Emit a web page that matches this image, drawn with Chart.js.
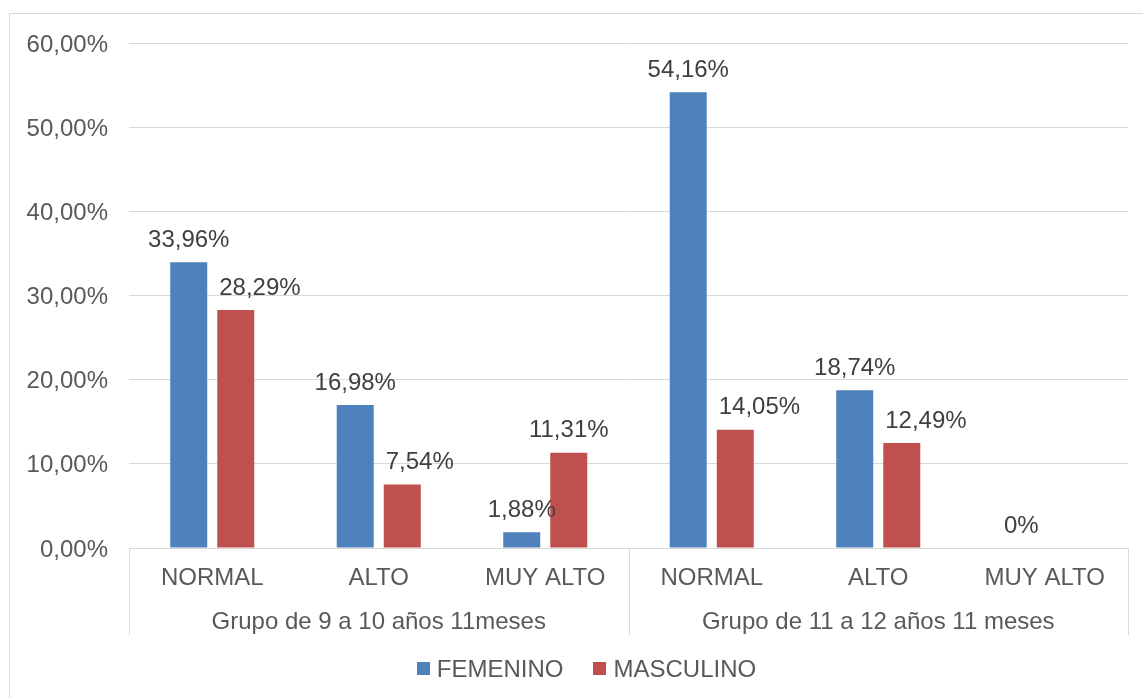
<!DOCTYPE html>
<html>
<head>
<meta charset="utf-8">
<script src="https://cdn.jsdelivr.net/npm/chart.js@4.4.1/dist/chart.umd.min.js"></script>
<style>
  html, body { margin: 0; padding: 0; background: #ffffff; }
  #wrap { position: relative; width: 1143px; height: 698px; }
</style>
</head>
<body>
<div id="wrap"><canvas id="c" width="1143" height="698"></canvas></div>
<script>
// ---- Data ----
const categories = ["NORMAL", "ALTO", "MUY ALTO", "NORMAL", "ALTO", "MUY ALTO"];
const groups = ["Grupo de 9 a 10 años 11meses", "Grupo de 11 a 12 años 11 meses"];
const groupSizes = [3, 3];
const seriesNames = ["FEMENINO", "MASCULINO"];
const femenino = [33.96, 16.98, 1.88, 54.16, 18.74, 0];
const masculino = [28.29, 7.54, 11.31, 14.05, 12.49, 0];
const femeninoLabels = ["33,96%", "16,98%", "1,88%", "54,16%", "18,74%", "0%"];
const masculinoLabels = ["28,29%", "7,54%", "11,31%", "14,05%", "12,49%", ""];
const yTicks = [0, 10, 20, 30, 40, 50, 60];

// ---- Styles ----
const BLUE = "#4F81BD";
const RED = "#C0504D";
const GRID = "#d9d9d9";
const TEXT = "#595959";
const LABEL_TEXT = "#404040";
const FONT = "'Liberation Sans', Arial, sans-serif";
const FS = 24;
// label alignment per bar (style, not data)
const labelAlign = [
  ["center", "center", "center", "center", "center", "center"],
  ["left", "left", "center", "left", "left", "center"]
];

const extras = {
  id: "extras",
  beforeDraw(chart) {
    const ctx = chart.ctx;
    ctx.save();
    ctx.strokeStyle = GRID;
    ctx.lineWidth = 1;
    ctx.strokeRect(9.5, 13.5, 1200, 800);
    ctx.restore();
  },
  afterDraw(chart) {
    const ctx = chart.ctx;
    const x = chart.scales.x;
    const area = chart.chartArea;
    ctx.save();
    // separators
    ctx.strokeStyle = GRID;
    ctx.lineWidth = 1;
    const seps = [area.left];
    let acc = 0;
    groupSizes.forEach(n => {
      acc += n;
      seps.push(acc === categories.length ? area.right : x.getPixelForValue(acc - 0.5));
    });
    seps.forEach(px => {
      const sx = Math.round(px) + 0.5;
      ctx.beginPath();
      ctx.moveTo(sx, area.bottom);
      ctx.lineTo(sx, area.bottom + 87);
      ctx.stroke();
    });
    // group labels
    ctx.fillStyle = TEXT;
    ctx.font = FS + "px " + FONT;
    ctx.textAlign = "center";
    ctx.textBaseline = "middle";
    for (let g = 0; g < groups.length; g++) {
      const cx = (seps[g] + seps[g + 1]) / 2;
      ctx.fillText(groups[g], cx, area.bottom + 74);
    }
    // data labels
    const labelSets = [femeninoLabels, masculinoLabels];
    ctx.fillStyle = LABEL_TEXT;
    chart.data.datasets.forEach((ds, di) => {
      const meta = chart.getDatasetMeta(di);
      meta.data.forEach((bar, i) => {
        const txt = labelSets[di][i];
        if (!txt) return;
        const al = labelAlign[di][i];
        ctx.textAlign = al;
        const lx = al === "left" ? bar.x - bar.width / 2 + 2 : bar.x;
        ctx.fillText(txt, lx, bar.y - 22);
      });
    });
    // legend
    ctx.font = FS + "px " + FONT;
    ctx.textAlign = "left";
    const box = 13, gapT = 7, gapI = 30;
    const colors = [BLUE, RED];
    const widths = seriesNames.map(s => ctx.measureText(s).width);
    const total = widths.reduce((a, w) => a + box + gapT + w, 0) + gapI * (seriesNames.length - 1);
    let lx = 586.5 - total / 2;
    const ly = 669;
    seriesNames.forEach((s, i) => {
      ctx.fillStyle = colors[i];
      ctx.fillRect(Math.round(lx), ly - 7, box, box);
      ctx.fillStyle = TEXT;
      ctx.fillText(s, lx + box + gapT, ly + 1);
      lx += box + gapT + widths[i] + gapI;
    });
    ctx.restore();
  }
};

new Chart(document.getElementById("c"), {
  type: "bar",
  data: {
    labels: categories,
    datasets: [
      { label: seriesNames[0], data: femenino, backgroundColor: BLUE, borderWidth: 0 },
      { label: seriesNames[1], data: masculino, backgroundColor: RED, borderWidth: 0 }
    ]
  },
  options: {
    responsive: false,
    animation: false,
    devicePixelRatio: 1,
    categoryPercentage: 0.565,
    barPercentage: 0.787,
    layout: { padding: { top: 43, right: 15, bottom: 0, left: 0 } },
    plugins: { legend: { display: false }, tooltip: { enabled: false } },
    scales: {
      x: {
        grid: { display: false, drawTicks: false },
        border: { display: true, color: GRID, width: 1 },
        ticks: { color: TEXT, font: { family: FONT, size: FS }, padding: 16, maxRotation: 0, autoSkip: false },
        afterFit(s) { s.height = 150; }
      },
      y: {
        min: 0, max: 60,
        afterBuildTicks(s) { s.ticks = yTicks.map(v => ({ value: v })); },
        grid: { color: GRID, lineWidth: 1, drawTicks: false },
        border: { display: false },
        ticks: {
          color: TEXT, font: { family: FONT, size: FS }, padding: 21, labelOffset: 2,
          callback: v => v.toFixed(2).replace(".", ",") + "%"
        },
        afterFit(s) { s.width = 129; }
      }
    }
  },
  plugins: [extras]
});
</script>
</body>
</html>
